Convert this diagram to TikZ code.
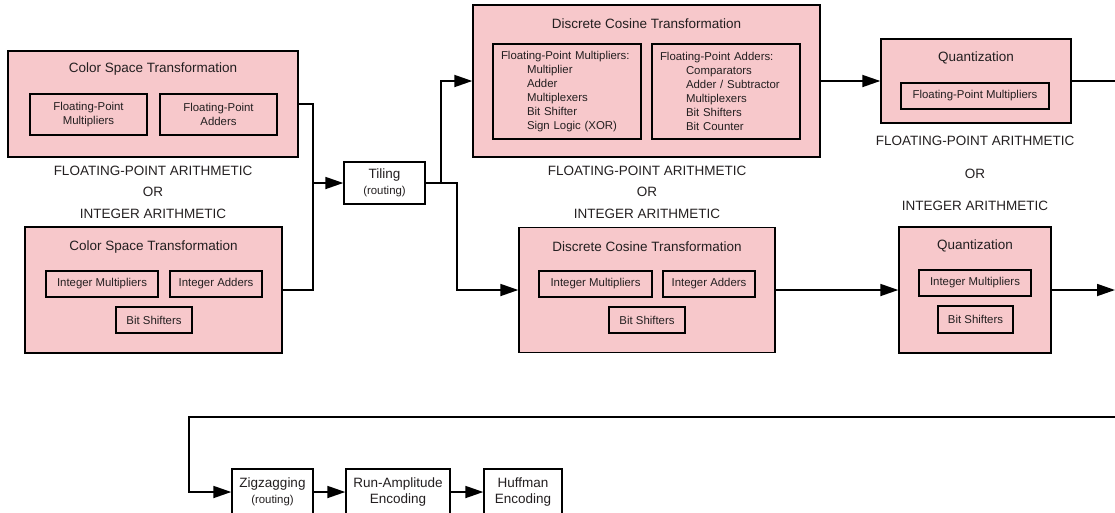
\documentclass[tikz,border=0pt]{standalone}
\usepackage{fontspec}
\setmainfont{Liberation Sans}
\usetikzlibrary{arrows.meta}
\usetikzlibrary{positioning}
\definecolor{mpink}{RGB}{247,200,203}
\definecolor{mtext}{RGB}{35,31,32}
\tikzset{outerbox/.style = {draw, fill=mpink, line width=1.4pt, inner sep=0pt}}
\tikzset{innerbox/.style = {draw, line width=1.4pt, inner sep=0pt, align=center,
                            font=\fontsize{11.4}{14}\selectfont}}
\tikzset{flowbox/.style = {draw, fill=white, line width=1.4pt, inner sep=0pt, align=center,
                           font=\fontsize{13.5}{16}\selectfont}}
\tikzset{boxtitle/.style = {font=\fontsize{13.5}{16}\selectfont}}
\tikzset{wire/.style = {line width=1.8pt}}
\tikzset{arr/.style = {-{Triangle[length=18pt, width=12pt]}}}
\newcommand{\smalltxt}{\fontsize{11.4}{14}\selectfont}

\begin{document}
\begin{tikzpicture}[x=1pt, y=-1pt, text=mtext]
      \useasboundingbox (0,0) rectangle (1115,512);
      \clip (0,0) rectangle (1115,512);
      % colour space transformation
      \node [outerbox, minimum width=290, minimum height=106] (csta) at (153,104) {};
      \node [boxtitle] (cstatitle) at (153,69) {Color Space Transformation};
      \node [innerbox, minimum width=117, minimum height=41] (cstfpmul) at (88.5,114.5) {Floating-Point\\Multipliers};
      \node [innerbox, minimum width=117, minimum height=41] (cstfpadd) at (218.5,114.5) {Floating-Point\\Adders};
      \node [boxtitle, align=center, font=\fontsize{13.5}{21.5}\selectfont] (cstor) at (153,192) {FLOATING-POINT ARITHMETIC\\OR\\INTEGER ARITHMETIC};
      \node [outerbox, minimum width=257, minimum height=126] (cstb) at (153.5,290) {};
      \node [boxtitle] (cstbtitle) at (153.5,247) {Color Space Transformation};
      \node [innerbox, minimum width=112, minimum height=26] (cstimul) at (102,284) {Integer Multipliers};
      \node [innerbox, minimum width=92, minimum height=26] (cstiadd) at (216,284) {Integer Adders};
      \node [innerbox, minimum width=76, minimum height=26] (cstshift) at (154,320) {Bit Shifters};
      % tiling
      \node [flowbox, minimum width=81, minimum height=42] (tiling) at (384.5,183) {Tiling\\{\smalltxt(routing)}};
      % discrete cosine transformation
      \node [outerbox, minimum width=347, minimum height=152] (dcta) at (646.5,81) {};
      \node [boxtitle] (dctatitle) at (646.5,24) {Discrete Cosine Transformation};
      \node [innerbox, minimum width=148, minimum height=95, text width=132pt, align=left] (dctfpmul) at (567,91.5)
            {Floating-Point Multipliers:\\\hspace*{26pt}Multiplier\\\hspace*{26pt}Adder\\\hspace*{26pt}Multiplexers\\\hspace*{26pt}Bit Shifter\\\hspace*{26pt}Sign Logic (XOR)};
      \node [innerbox, minimum width=148, minimum height=95, text width=132pt, align=left] (dctfpadd) at (726,91.5)
            {Floating-Point Adders:\\\hspace*{26pt}Comparators\\\hspace*{26pt}Adder / Subtractor\\\hspace*{26pt}Multiplexers\\\hspace*{26pt}Bit Shifters\\\hspace*{26pt}Bit Counter};
      \node [boxtitle, align=center, font=\fontsize{13.5}{21.5}\selectfont] (dctor) at (647,192) {FLOATING-POINT ARITHMETIC\\OR\\INTEGER ARITHMETIC};
      \node [outerbox, minimum width=256, minimum height=125] (dctb) at (647,290) {};
      \node [boxtitle] (dctbtitle) at (647,247) {Discrete Cosine Transformation};
      \node [innerbox, minimum width=113, minimum height=26] (dctimul) at (595.5,284) {Integer Multipliers};
      \node [innerbox, minimum width=92, minimum height=26] (dctiadd) at (709,284) {Integer Adders};
      \node [innerbox, minimum width=76, minimum height=26] (dctshift) at (647,320) {Bit Shifters};
      % quantization
      \node [outerbox, minimum width=190, minimum height=84] (quanta) at (976,81) {};
      \node [boxtitle] (quantatitle) at (976,58) {Quantization};
      \node [innerbox, minimum width=148, minimum height=26] (quantfpmul) at (975,96) {Floating-Point Multipliers};
      \node [boxtitle, align=center, font=\fontsize{13.5}{32.5}\selectfont] (quantor) at (975,173.5) {FLOATING-POINT ARITHMETIC\\OR\\INTEGER ARITHMETIC};
      \node [outerbox, minimum width=152, minimum height=126] (quantb) at (975,290) {};
      \node [boxtitle] (quantbtitle) at (975,246) {Quantization};
      \node [innerbox, minimum width=112, minimum height=26] (quantimul) at (975,283) {Integer Multipliers};
      \node [innerbox, minimum width=75, minimum height=27] (quantshift) at (975.5,319.5) {Bit Shifters};
      % encoding row, cut off by the lower edge
      \node [flowbox, minimum width=81, minimum height=46] (zig) at (272.5,492) {Zigzagging\\{\smalltxt(routing)}};
      \node [flowbox, minimum width=104, minimum height=46] (runamp) at (398,492) {Run-Amplitude\\Encoding};
      \node [flowbox, minimum width=78, minimum height=46] (huff) at (523,492) {Huffman\\Encoding};
      % connectors
      \coordinate (join) at (313,183);
      \coordinate (outa) at (1115,81);
      \coordinate (outb) at (1115,290);
      \coordinate (loopin) at (1115,417);
      \draw [wire] (csta.east) -| (join);
      \draw [wire] (cstb.east) -| (join);
      \draw [wire, arr] (join) -- (tiling.west);
      \draw [wire, arr] (tiling.east) -- ++(15,0) |- (dcta.west);
      \draw [wire, arr] (tiling.east) -- ++(31,0) |- (dctb.west);
      \draw [wire, arr] (dcta.east) -- (quanta.west);
      \draw [wire, arr] (dctb.east) -- (quantb.west);
      \draw [wire] (quanta.east) -- (outa);
      \draw [wire, arr] (quantb.east) -- (outb);
      \draw [wire, arr] (loopin) -- ++(-926,0) |- (zig.west);
      \draw [wire, arr] (zig) -- (runamp);
      \draw [wire, arr] (runamp) -- (huff);
    \end{tikzpicture}
\end{document}
